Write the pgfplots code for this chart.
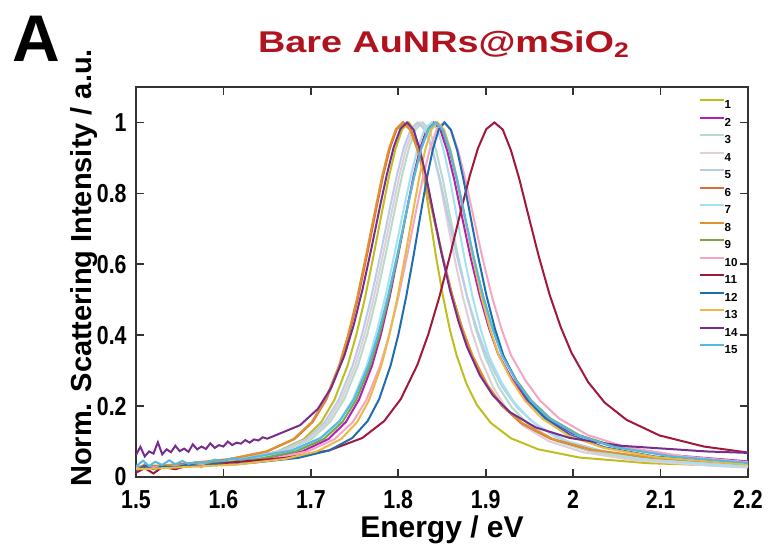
\documentclass[border=0pt]{standalone}
\usepackage{pgfplots}
\pgfplotsset{compat=1.18}
\usepackage{fontspec}
\setmainfont{Liberation Sans}
\newfontfamily\tickfont[FakeStretch=0.82]{Liberation Sans}
\newfontfamily\titlefont[FakeStretch=1.26]{Liberation Sans}
\definecolor{c1}{RGB}{190,190,30}
\definecolor{c2}{RGB}{180,30,180}
\definecolor{c3}{RGB}{180,220,200}
\definecolor{c4}{RGB}{225,205,215}
\definecolor{c5}{RGB}{185,205,235}
\definecolor{c6}{RGB}{215,110,60}
\definecolor{c7}{RGB}{165,225,240}
\definecolor{c8}{RGB}{225,145,45}
\definecolor{c9}{RGB}{115,170,70}
\definecolor{c10}{RGB}{245,165,195}
\definecolor{c11}{RGB}{160,25,60}
\definecolor{c12}{RGB}{30,110,175}
\definecolor{c13}{RGB}{235,185,70}
\definecolor{c14}{RGB}{120,45,140}
\definecolor{c15}{RGB}{85,185,225}
\definecolor{titlered}{RGB}{176,18,30}
\begin{document}
\begin{tikzpicture}
\begin{axis}[
  at={(68pt,37pt)}, anchor=south west,
  scale only axis, width=306pt, height=195pt,
  xmin=1.5, xmax=2.2, ymin=0, ymax=1.1,
  xtick={1.5,1.6,1.7,1.8,1.9,2,2.1,2.2},
  ytick={0,0.2,0.4,0.6,0.8,1},
  tick align=inside, xtick pos=both, ytick pos=both,
  major tick length=4pt,
  tick style={line width=0.8pt, color=black!80},
  axis line style={line width=1pt, color=black!80},
  /pgf/number format/assume math mode=true,
  ticklabel style={font=\tickfont\bfseries\fontsize{13}{13}\selectfont, inner sep=0pt},
  xticklabel style={anchor=north, yshift=-6.5pt},
  yticklabel style={anchor=east, xshift=-4.5pt},
  xlabel={Energy / eV},
  ylabel={Norm. Scattering Intensity / a.u.},
  xlabel style={font=\bfseries\fontsize{15}{15}\selectfont, at={(axis description cs:0.5,-0.154)}, anchor=base, inner sep=0pt},
  ylabel style={font=\bfseries\fontsize{14.5}{14.5}\selectfont, at={(axis description cs:-0.073,0.536)}, anchor=base, rotate=0, inner sep=0pt},
  no markers,
  every axis plot/.append style={line width=1pt},
  legend style={draw=none, fill=white, at={(0.987,0.975)}, anchor=north east,
    inner xsep=1pt, inner ysep=1pt,
    nodes={inner sep=0pt, font=\bfseries\fontsize{5.8}{5.8}\selectfont, text height=4.4pt, text depth=0pt},
    row sep=3.9pt,
    /tikz/every even column/.append style={column sep=0.5pt}},
  legend image code/.code={\draw[#1, line width=1.1pt] (0pt,2.1pt) -- (12pt,2.1pt);},
  legend cell align=left,
]
\addplot[c1] coordinates {(1.5,.027)(1.562,.035)(1.622,.051)(1.662,.072)(1.692,.107)(1.712,.155)(1.727,.218)(1.742,.314)(1.752,.401)(1.762,.506)(1.772,.628)(1.782,.756)(1.7895,.849)(1.797,.927)(1.8045,.981)(1.812,1)(1.8179,.979)(1.8237,.921)(1.8296,.839)(1.8354,.745)(1.8432,.621)(1.851,.511)(1.8588,.418)(1.8666,.344)(1.8783,.261)(1.890,.203)(1.9056,.153)(1.929,.109)(1.9602,.078)(2.007,.055)(2.085,.039)(2.2,.030)};
\addlegendentry{1}
\addplot[c2] coordinates {(1.5,.025)(1.590,.035)(1.650,.051)(1.690,.072)(1.720,.107)(1.740,.155)(1.755,.218)(1.770,.314)(1.780,.401)(1.790,.506)(1.800,.628)(1.810,.756)(1.8175,.849)(1.825,.927)(1.8325,.981)(1.840,1)(1.848,.980)(1.8559,.921)(1.8639,.840)(1.8718,.747)(1.8824,.623)(1.893,.513)(1.9036,.421)(1.9142,.347)(1.9301,.276)(1.946,.220)(1.9672,.170)(1.999,.123)(2.0414,.089)(2.105,.063)(2.2,.044)};
\addlegendentry{2}
\addplot[c3] coordinates {(1.5,.027)(1.563,.035)(1.6266,.051)(1.669,.072)(1.7008,.107)(1.722,.155)(1.7379,.218)(1.7538,.314)(1.7644,.401)(1.775,.506)(1.7856,.628)(1.7962,.756)(1.8042,.849)(1.8121,.927)(1.8201,.981)(1.828,1)(1.8357,.979)(1.8433,.920)(1.851,.838)(1.8586,.743)(1.8688,.618)(1.879,.506)(1.8892,.413)(1.8994,.338)(1.9147,.254)(1.930,.196)(1.9504,.145)(1.981,.101)(2.0218,.070)(2.083,.047)(2.185,.030)(2.2,.028)};
\addlegendentry{3}
\addplot[c4] coordinates {(1.5,.027)(1.560,.035)(1.6236,.051)(1.666,.072)(1.6978,.107)(1.719,.155)(1.7349,.218)(1.7508,.314)(1.7614,.401)(1.772,.506)(1.7826,.628)(1.7932,.756)(1.8012,.849)(1.8091,.927)(1.8171,.981)(1.825,1)(1.8324,.979)(1.8397,.920)(1.8471,.838)(1.8544,.743)(1.8642,.618)(1.874,.506)(1.8838,.413)(1.8936,.338)(1.9083,.254)(1.923,.196)(1.9426,.145)(1.972,.101)(2.0112,.070)(2.070,.047)(2.168,.030)(2.2,.027)};
\addlegendentry{4}
\addplot[c5] coordinates {(1.5,.028)(1.557,.035)(1.6206,.051)(1.663,.072)(1.6948,.107)(1.716,.155)(1.7319,.218)(1.7478,.314)(1.7584,.401)(1.769,.506)(1.7796,.628)(1.7902,.756)(1.7982,.849)(1.8061,.927)(1.8141,.981)(1.822,1)(1.8306,.979)(1.8391,.920)(1.8477,.838)(1.8562,.743)(1.8676,.618)(1.879,.506)(1.8904,.413)(1.9018,.338)(1.9189,.254)(1.936,.196)(1.9588,.145)(1.993,.101)(2.0386,.070)(2.107,.047)(2.2,.032)};
\addlegendentry{5}
\addplot[c6] coordinates {(1.5,.029)(1.546,.035)(1.6084,.051)(1.650,.072)(1.6812,.107)(1.702,.155)(1.7176,.218)(1.7332,.314)(1.7436,.401)(1.754,.506)(1.7644,.628)(1.7748,.756)(1.7826,.849)(1.7904,.927)(1.7982,.981)(1.806,1)(1.8144,.979)(1.8228,.921)(1.8312,.839)(1.8396,.745)(1.8508,.621)(1.862,.510)(1.8732,.418)(1.8844,.343)(1.9012,.260)(1.918,.202)(1.9404,.152)(1.974,.108)(2.0188,.077)(2.086,.054)(2.2,.038)};
\addlegendentry{6}
\addplot[c7] coordinates {(1.5,.026)(1.573,.035)(1.6366,.051)(1.679,.072)(1.7108,.107)(1.732,.155)(1.7479,.218)(1.7638,.314)(1.7744,.401)(1.785,.506)(1.7956,.628)(1.8062,.756)(1.8142,.849)(1.8221,.927)(1.8301,.981)(1.838,1)(1.8451,.979)(1.8521,.920)(1.8592,.838)(1.8662,.744)(1.8756,.619)(1.885,.508)(1.8944,.415)(1.9038,.340)(1.9179,.268)(1.932,.212)(1.9508,.161)(1.979,.114)(2.0166,.080)(2.073,.053)(2.167,.033)(2.2,.030)};
\addlegendentry{7}
\addplot[c8] coordinates {(1.5,.020)(1.510,.036)(1.520,.025)(1.530,.033)(1.545,.035)(1.560,.031)(1.575,.043)(1.590,.040)(1.6074,.051)(1.649,.072)(1.6802,.107)(1.701,.155)(1.7166,.218)(1.7322,.314)(1.7426,.401)(1.753,.506)(1.7634,.628)(1.7738,.756)(1.7816,.849)(1.7894,.927)(1.7972,.981)(1.805,1)(1.8136,.979)(1.8221,.921)(1.8307,.839)(1.8392,.745)(1.8506,.621)(1.862,.510)(1.8734,.418)(1.8848,.343)(1.9019,.260)(1.919,.202)(1.9418,.152)(1.976,.108)(2.0216,.077)(2.090,.054)(2.2,.038)};
\addlegendentry{8}
\addplot[c9] coordinates {(1.5,.026)(1.577,.035)(1.6406,.051)(1.683,.072)(1.7148,.107)(1.736,.155)(1.7519,.218)(1.7678,.314)(1.7784,.401)(1.789,.506)(1.7996,.628)(1.8102,.756)(1.8182,.849)(1.8261,.927)(1.8341,.981)(1.842,1)(1.8503,.979)(1.8585,.921)(1.8668,.839)(1.875,.745)(1.886,.621)(1.897,.510)(1.908,.418)(1.919,.343)(1.9355,.272)(1.952,.216)(1.974,.165)(2.007,.118)(2.051,.084)(2.117,.058)(2.2,.040)};
\addlegendentry{9}
\addplot[c10] coordinates {(1.5,.025)(1.592,.035)(1.6544,.051)(1.696,.072)(1.7272,.107)(1.748,.155)(1.7636,.218)(1.7792,.314)(1.7896,.401)(1.800,.506)(1.8104,.628)(1.8208,.756)(1.8286,.849)(1.8364,.927)(1.8442,.981)(1.852,1)(1.8603,.979)(1.8685,.921)(1.8768,.839)(1.885,.745)(1.896,.621)(1.907,.510)(1.918,.418)(1.929,.343)(1.9455,.272)(1.962,.216)(1.984,.165)(2.017,.118)(2.061,.084)(2.127,.058)(2.2,.042)};
\addlegendentry{10}
\addplot[c11] coordinates {(1.5,.012)(1.510,.025)(1.520,.010)(1.530,.028)(1.545,.022)(1.560,.033)(1.575,.030)(1.595,.038)(1.6706,.054)(1.721,.075)(1.7588,.110)(1.784,.158)(1.8029,.220)(1.8218,.316)(1.8344,.403)(1.847,.508)(1.8596,.629)(1.8722,.757)(1.8817,.849)(1.8911,.927)(1.9006,.981)(1.910,1)(1.9195,.980)(1.9289,.921)(1.9384,.841)(1.9478,.748)(1.9604,.625)(1.973,.515)(1.9856,.424)(1.9982,.350)(2.0171,.268)(2.036,.210)(2.0612,.161)(2.099,.117)(2.1494,.086)(2.2,.069)};
\addlegendentry{11}
\addplot[c12] coordinates {(1.5,.018)(1.510,.032)(1.520,.022)(1.530,.030)(1.545,.027)(1.560,.035)(1.575,.030)(1.590,.038)(1.605,.034)(1.633,.040)(1.6858,.054)(1.721,.075)(1.7474,.110)(1.765,.158)(1.7782,.220)(1.7914,.316)(1.8002,.403)(1.809,.508)(1.8178,.629)(1.8266,.757)(1.8332,.849)(1.8398,.927)(1.8464,.981)(1.853,1)(1.8602,.979)(1.8674,.921)(1.8746,.839)(1.8818,.745)(1.8914,.621)(1.901,.510)(1.9106,.418)(1.9202,.343)(1.9346,.272)(1.949,.216)(1.9682,.165)(1.997,.118)(2.0354,.084)(2.093,.058)(2.189,.038)(2.2,.037)};
\addlegendentry{12}
\addplot[c13] coordinates {(1.5,.022)(1.523,.024)(1.615,.035)(1.6702,.051)(1.707,.072)(1.7346,.107)(1.753,.155)(1.7668,.218)(1.7806,.314)(1.7898,.401)(1.799,.506)(1.8082,.628)(1.8174,.756)(1.8243,.849)(1.8312,.927)(1.8381,.981)(1.845,1)(1.8525,.979)(1.860,.920)(1.8675,.839)(1.875,.745)(1.885,.620)(1.895,.509)(1.905,.417)(1.915,.342)(1.930,.271)(1.945,.215)(1.965,.164)(1.995,.116)(2.035,.082)(2.095,.056)(2.195,.036)(2.2,.035)};
\addlegendentry{13}
\addplot[c14] coordinates {(1.500,.062)(1.505,.085)(1.510,.058)(1.515,.072)(1.520,.066)(1.525,.098)(1.530,.064)(1.535,.078)(1.540,.070)(1.545,.088)(1.550,.073)(1.555,.080)(1.560,.071)(1.565,.092)(1.570,.078)(1.575,.086)(1.580,.079)(1.585,.095)(1.590,.082)(1.595,.090)(1.600,.086)(1.605,.100)(1.610,.090)(1.615,.097)(1.620,.094)(1.625,.104)(1.630,.097)(1.635,.106)(1.640,.103)(1.645,.112)(1.650,.108)(1.657,.115)(1.6876,.146)(1.708,.192)(1.7233,.252)(1.7386,.344)(1.7488,.427)(1.759,.528)(1.7692,.644)(1.7794,.767)(1.7871,.855)(1.7947,.930)(1.8024,.982)(1.810,1)(1.8174,.980)(1.8247,.923)(1.8321,.845)(1.8394,.754)(1.8492,.634)(1.859,.528)(1.8688,.439)(1.8786,.367)(1.8933,.287)(1.908,.231)(1.9276,.183)(1.957,.140)(1.9962,.110)(2.055,.088)(2.153,.072)(2.2,.068)};
\addlegendentry{14}
\addplot[c15] coordinates {(1.500,.030)(1.508,.046)(1.515,.031)(1.522,.043)(1.530,.034)(1.538,.047)(1.545,.036)(1.553,.045)(1.560,.037)(1.568,.042)(1.580,.040)(1.590,.049)(1.600,.045)(1.610,.053)(1.620,.049)(1.634,.056)(1.678,.075)(1.711,.110)(1.733,.158)(1.7495,.220)(1.766,.316)(1.777,.403)(1.788,.508)(1.799,.629)(1.810,.757)(1.8183,.849)(1.8265,.927)(1.8348,.981)(1.843,1)(1.8511,.979)(1.8592,.921)(1.8673,.839)(1.8754,.745)(1.8862,.621)(1.897,.510)(1.9078,.418)(1.9186,.343)(1.9348,.272)(1.951,.216)(1.9726,.165)(2.005,.118)(2.0482,.084)(2.113,.058)(2.2,.040)};
\addlegendentry{15}
\end{axis}
\node[anchor=base, inner sep=0pt, text=titlered] at (222pt,249pt) {\titlefont\bfseries\fontsize{15}{15}\selectfont Bare AuNRs@mSiO\textsubscript{2}};
\node[anchor=base west, inner sep=0pt] at (6pt,244.5pt) {\bfseries\fontsize{33}{33}\selectfont A};
\pgfresetboundingbox
\path[use as bounding box] (0,0) rectangle (384.5pt,275.5pt);
\end{tikzpicture}
\end{document}
